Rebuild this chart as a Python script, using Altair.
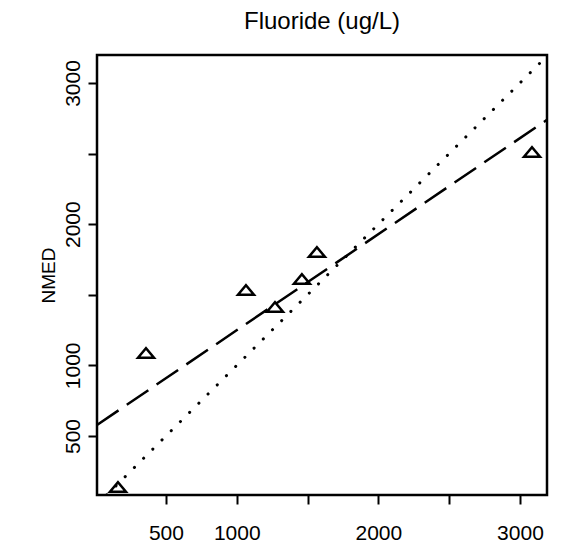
import altair as alt
import pandas as pd

# Observed points (x = Fluoride ug/L, y = NMED)
x_vals = [161, 359, 1065, 1270, 1460, 1566, 3085]
y_vals = [139, 1088, 1534, 1414, 1612, 1803, 2511]

# Axis domains and ticks
x_domain = [13, 3191]
y_domain = [82, 3198]
tick_vals = [500, 1000, 1500, 2000, 2500, 3000]
hidden_labels = [1500, 2500]

fit_intercept = 569
fit_slope = 0.68
line_x = [13, 3191]

pts = pd.DataFrame({"x": x_vals, "y": y_vals})
fit = pd.DataFrame({"x": line_x, "y": [fit_intercept + fit_slope * v for v in line_x]})
ref = pd.DataFrame({"x": [y_domain[0], x_domain[1]], "y": [y_domain[0], x_domain[1]]})

FONT = "Liberation Sans"
label_expr = "indexof([" + ",".join(str(v) for v in hidden_labels) + "], datum.value) >= 0 ? '' : datum.label"

xscale = alt.Scale(domain=x_domain, nice=False, zero=False)
yscale = alt.Scale(domain=y_domain, nice=False, zero=False)

xaxis = alt.Axis(values=tick_vals, format="d", labelExpr=label_expr, title=None,
                 tickSize=9, tickWidth=2, tickColor="black", domain=False, grid=False,
                 labelFont=FONT, labelFontSize=21, labelColor="black", labelPadding=18)
yaxis = alt.Axis(values=tick_vals, format="d", labelExpr=label_expr, title="NMED",
                 tickSize=9, tickWidth=2, tickColor="black", domain=False, grid=False,
                 labelFont=FONT, labelFontSize=21, labelColor="black", labelAngle=270,
                 labelAlign="center", labelBaseline="bottom", labelPadding=5,
                 titleFont=FONT, titleFontSize=19, titleFontWeight="normal",
                 titleColor="black", titlePadding=4)

points = alt.Chart(pts).mark_point(
    shape="M-1,0.6L0,-0.6L1,0.6Z", size=256, filled=False, stroke="black",
    strokeWidth=2.5, opacity=1
).encode(
    x=alt.X("x:Q", scale=xscale, axis=xaxis),
    y=alt.Y("y:Q", scale=yscale, axis=yaxis),
)

dashed = alt.Chart(fit).mark_line(
    color="black", strokeWidth=2.5, strokeDash=[26, 10], clip=True
).encode(x=alt.X("x:Q", scale=xscale), y=alt.Y("y:Q", scale=yscale))

dotted = alt.Chart(ref).mark_line(
    color="black", strokeWidth=3, strokeDash=[0.1, 12.9], strokeCap="round", clip=True
).encode(x=alt.X("x:Q", scale=xscale), y=alt.Y("y:Q", scale=yscale))

chart = alt.layer(dotted, dashed, points).properties(
    width=450, height=440,
    background="white",
    title=alt.TitleParams("Fluoride (ug/L)", font=FONT, fontSize=24, fontWeight="normal",
                          color="black", anchor="middle", offset=21),
    autosize=alt.AutoSizeParams(type="none"),
    padding={"left": 89, "top": 47, "right": 7, "bottom": 47},
).configure_view(
    stroke="black", strokeWidth=2.5
)

chart.save("out.html", embed_options={"renderer": "svg", "actions": False})
